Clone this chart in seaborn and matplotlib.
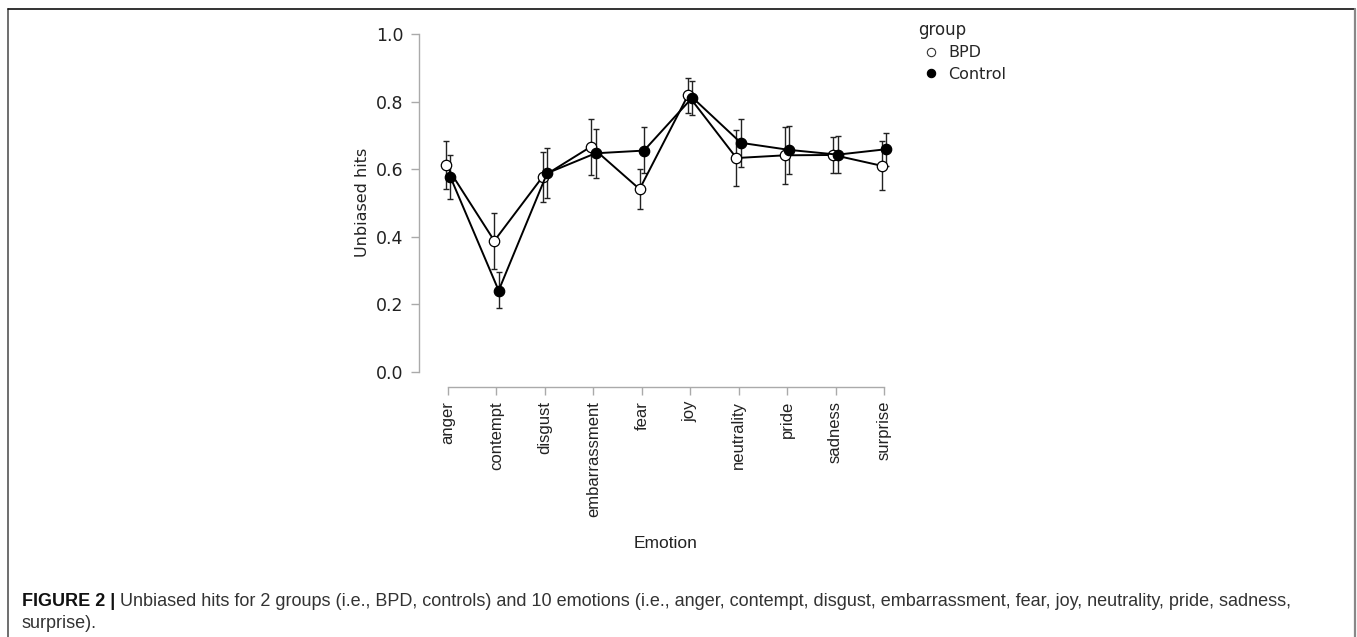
# Unbiased hits por emocion y grupo (BPD vs Control)

import matplotlib

matplotlib.use('Agg')

import matplotlib.pyplot as plt
from matplotlib.lines import Line2D
import seaborn as sns
import numpy as np
import pandas as pd


emotions = [
    'anger', 'contempt', 'disgust', 'embarrassment', 'fear',
    'joy', 'neutrality', 'pride', 'sadness', 'surprise',
]

groups = ['BPD', 'Control']

bpd_mean = [0.612, 0.388, 0.578, 0.667, 0.541, 0.819, 0.633, 0.641, 0.642, 0.610]
bpd_low = [0.541, 0.305, 0.504, 0.583, 0.482, 0.765, 0.549, 0.556, 0.589, 0.538]
bpd_high = [0.684, 0.471, 0.652, 0.749, 0.601, 0.871, 0.717, 0.726, 0.694, 0.684]

ctrl_mean = [0.578, 0.241, 0.588, 0.647, 0.655, 0.812, 0.678, 0.657, 0.643, 0.659]
ctrl_low = [0.512, 0.188, 0.514, 0.575, 0.588, 0.760, 0.607, 0.587, 0.589, 0.610]
ctrl_high = [0.643, 0.295, 0.663, 0.718, 0.724, 0.862, 0.749, 0.728, 0.698, 0.707]

y_ticks = [0.0, 0.2, 0.4, 0.6, 0.8, 1.0]

caption_bold = 'FIGURE 2 |'
caption_line1 = (
    ' Unbiased hits for 2 groups (i.e., BPD, controls) and 10 emotions '
    '(i.e., anger, contempt, disgust, embarrassment, fear, joy, neutrality, '
    'pride, sadness,'
)
caption_line2 = 'surprise).'


W, H = 1357, 637

sns.set_style('ticks')
plt.rcParams['font.family'] = ['DejaVu Sans']

df = pd.DataFrame({
    'emotion': emotions * 2,
    'group': ['BPD'] * len(emotions) + ['Control'] * len(emotions),
    'hits': bpd_mean + ctrl_mean,
})

fig = plt.figure(figsize=(W / 100, H / 100), dpi=100)

ax = fig.add_axes([419 / W, 1 - 387 / H, 494 / W, (387 - 27.2) / H])

n_before = len(ax.lines)

sns.pointplot(
    data=df,
    x='emotion',
    y='hits',
    hue='group',
    order=emotions,
    hue_order=groups,
    palette={'BPD': 'black', 'Control': 'black'},
    markers='o',
    dodge=0.09,
    errorbar=None,
    linewidth=1.4,
    markersize=7.5,
    markeredgewidth=0.9,
    legend=False,
    ax=ax,
)

point_lines = ax.lines[n_before:]
for line in point_lines:
    line.set_zorder(3)
    line.set_markeredgecolor('black')
point_lines[0].set_markerfacecolor('white')
point_lines[1].set_zorder(4)

# barras de error (intervalos) a mano
x = np.arange(len(emotions))
series = [
    (bpd_mean, bpd_low, bpd_high, -0.045),
    (ctrl_mean, ctrl_low, ctrl_high, 0.045),
]
for mean, low, high, off in series:
    mean = np.array(mean)
    ax.errorbar(
        x + off,
        mean,
        yerr=[mean - np.array(low), np.array(high) - mean],
        fmt='none',
        ecolor='#222222',
        elinewidth=1.0,
        capsize=2,
        capthick=1.0,
        zorder=2,
    )

ax.set_xlim(-0.6, 9.6)
ax.set_ylim(-0.0444, 1.02)
ax.set_yticks(y_ticks)
ax.set_yticklabels([f'{v:.1f}' for v in y_ticks], fontsize=12.5, color='#222222')
ax.set_xticks(x)
ax.set_xticklabels(
    emotions,
    rotation=90,
    fontsize=12,
    family='Liberation Sans',
    color='#222222',
)

for side in ['top', 'right']:
    ax.spines[side].set_visible(False)
ax.spines['left'].set_bounds(0, 1)
ax.spines['bottom'].set_bounds(0, 9)
for side in ['left', 'bottom']:
    ax.spines[side].set_color('#aaaaaa')
    ax.spines[side].set_linewidth(1.0)

ax.tick_params(axis='both', length=6, width=1.0, color='#aaaaaa')
ax.tick_params(axis='y', pad=5)
ax.tick_params(axis='x', pad=4)

ax.set_ylabel('Unbiased hits', fontsize=11.5, color='#222222')
ax.yaxis.label.set_va('center')
ax.yaxis.set_label_coords(-0.115, 0.514)

ax.set_xlabel('Emotion', fontsize=12.5, family='Liberation Sans', color='#222222')
ax.xaxis.label.set_va('center')
ax.xaxis.set_label_coords(0.5, (387 - 544) / (387 - 27.2))

handles = [
    Line2D([], [], marker='o', ls='none', mfc='white', mec='#333333', ms=6, mew=0.8),
    Line2D([], [], marker='o', ls='none', mfc='black', mec='black', ms=6, mew=0.8),
]
ax.legend(
    handles,
    groups,
    title='group',
    loc='upper left',
    bbox_to_anchor=(918 / W, 1 - 21 / H),
    bbox_transform=fig.transFigure,
    frameon=False,
    alignment='left',
    handlelength=1.6,
    handletextpad=0.3,
    borderaxespad=0,
    borderpad=0,
    labelspacing=0.4,
    fontsize=11.5,
    title_fontsize=12,
)

# marco de la figura
fig.add_artist(Line2D([8 / W, 8 / W], [0, 1 - 9 / H], transform=fig.transFigure,
                      color='#555555', lw=1.2))
fig.add_artist(Line2D([8 / W, 1355 / W], [1 - 9 / H, 1 - 9 / H], transform=fig.transFigure,
                      color='#111111', lw=1.2))
fig.add_artist(Line2D([1355 / W, 1355 / W], [0, 1 - 9 / H], transform=fig.transFigure,
                      color='#888888', lw=1.6))

# leyenda de la figura
t = fig.text(
    22 / W, 1 - 601 / H,
    caption_bold,
    fontsize=13,
    fontweight='bold',
    family='Liberation Sans',
    color='#111111',
    va='center',
)
ax.annotate(
    caption_line1,
    xy=(1, 0.5),
    xycoords=t,
    fontsize=13,
    family='Liberation Sans',
    color='#333333',
    va='center',
    ha='left',
    annotation_clip=False,
)
fig.text(
    22 / W, 1 - 624 / H,
    caption_line2,
    fontsize=13,
    family='Liberation Sans',
    color='#333333',
    va='center',
)

plt.savefig('out.png', dpi=100)
plt.close()
